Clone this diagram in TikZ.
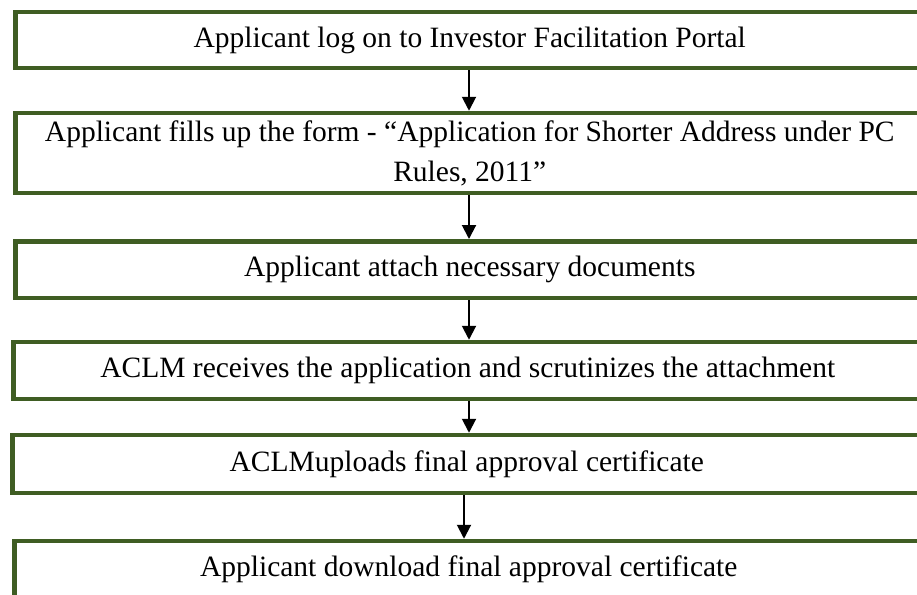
\documentclass[tikz,border=0pt]{standalone}
\usepackage{fontspec}
\setmainfont{Liberation Serif}
\usetikzlibrary{arrows.meta}
\definecolor{boxgreen}{RGB}{63,93,35}

\begin{document}
\begin{tikzpicture}[x=1pt,y=-1pt,
    stepbox/.style={draw=boxgreen,line width=4.5pt,anchor=west,minimum width=909pt,
        minimum height=#1,inner sep=0pt,align=center,font=\fontsize{29.5}{40}\selectfont},
    stepbox/.default=56pt,
    flow/.style={-{Triangle[width=14pt,length=14pt]},line width=2pt}]

    % page frame
    \useasboundingbox (0,0) rectangle (917,594);

    % boxes of the procedure
    \node[stepbox] (login) at (13,40) {Applicant log on to Investor Facilitation Portal};
    \node[stepbox=80pt] (form) at (13,153) {Applicant fills up the form - “Application for Shorter Address under PC\\Rules, 2011”};
    \node[stepbox=56.5pt] (attach) at (13,269.5) {Applicant attach necessary documents};
    \node[stepbox=57pt] (scrutiny) at (11,370.5) {ACLM receives the application and scrutinizes the attachment};
    \node[stepbox=58pt] (upload) at (10,464) {ACLMuploads final approval certificate};
    \node[stepbox=57pt] (download) at (12,569.5) {Applicant download final approval certificate};

    % arrows
    \foreach \a/\b/\x in {login/form/469,form/attach/469,attach/scrutiny/469,scrutiny/upload/469,upload/download/464}
        \draw[flow] (\a.south -| \x,0) -- (\b.north -| \x,0);

\end{tikzpicture}
\end{document}
